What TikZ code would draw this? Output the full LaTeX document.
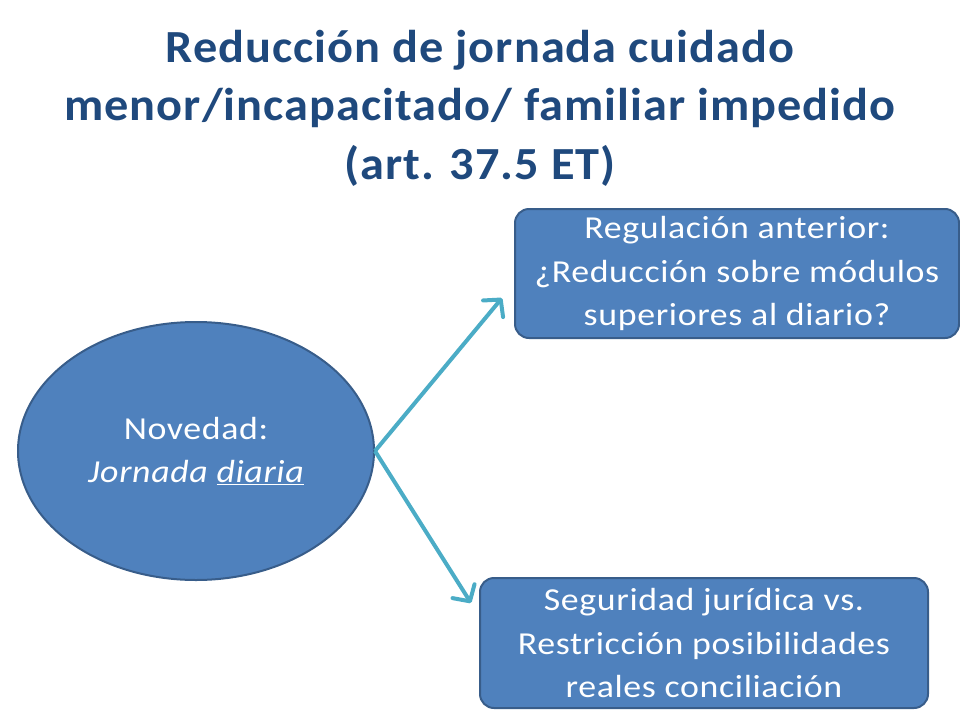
\documentclass[tikz,border=0pt]{standalone}
\usepackage{fontspec}
\setmainfont{Carlito}
\newfontfamily\titlefont[FakeStretch=1.05,LetterSpace=2.2]{Carlito}
\newfontfamily\bodyfont[FakeStretch=1.12,LetterSpace=2]{Carlito}
\usetikzlibrary{shapes.geometric,arrows.meta,calc}
\definecolor{titleblue}{HTML}{1F497D}
\definecolor{boxfill}{HTML}{4F81BD}
\definecolor{boxline}{HTML}{385D8A}
\definecolor{arrowc}{HTML}{4BACC6}
\tikzset{
  titletext/.style={font=\titlefont\bfseries\fontsize{46}{58.5}\selectfont, text=titleblue, align=center, inner sep=0},
  bluebox/.style={draw=boxline, fill=boxfill, line width=2pt, rounded corners=14pt, text=white, align=center,
    font=\bodyfont\fontsize{32}{43.5}\selectfont, inner sep=0},
  blueell/.style={ellipse, draw=boxline, fill=boxfill, line width=2pt, text=white, align=center,
    font=\bodyfont\fontsize{32}{43.5}\selectfont, inner sep=0},
  conn/.style={draw=arrowc, line width=4pt, line join=round, -{Straight Barb[length=12pt,width=26pt,line width=4pt,round]}}
}
\begin{document}
\begin{tikzpicture}[x=1pt,y=-1pt]
\useasboundingbox (0,0) rectangle (960,720);
\node[titletext] (title) at (480,108) {Reducción de jornada cuidado\\menor/incapacitado/ familiar impedido\\(art. 37.5 ET)};
\node[blueell, minimum width=356pt, minimum height=258pt] (e) at (196,451) {Novedad:\\\itshape Jornada \underline{diaria}};
\node[bluebox, minimum width=444pt, minimum height=129pt] (b1) at (737,273.5) {Regulación anterior:\\¿Reducción sobre módulos\\superiores al diario?};
\node[bluebox, minimum width=448pt, minimum height=130pt] (b2) at (704,643) {Seguridad jurídica vs.\\Restricción posibilidades\\reales conciliación};
\coordinate (t1) at ($(b1.west)+(-12,24.5)$);
\coordinate (t2) at ($(b2.west)+(-8,-40)$);
\draw[conn] (e.east) -- (t1);
\draw[conn] (e.east) -- (t2);
\end{tikzpicture}
\end{document}
